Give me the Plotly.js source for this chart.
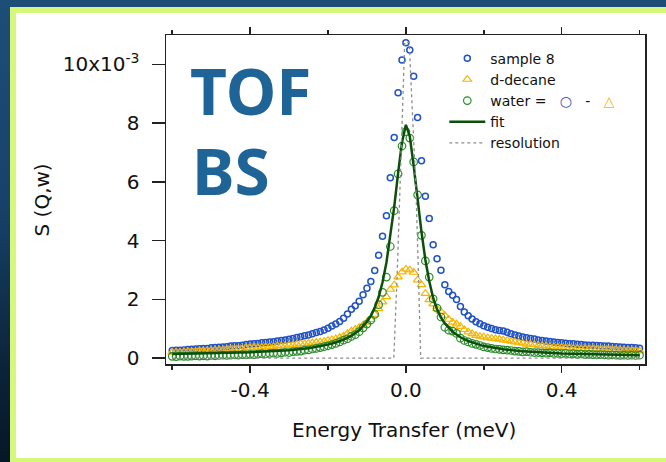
<!DOCTYPE html>
<html><head><meta charset="utf-8">
<script src="https://cdn.plot.ly/plotly-3.0.1.min.js"></script>
<style>
html,body{margin:0;padding:0;}
body{width:666px;height:462px;overflow:hidden;position:relative;background:linear-gradient(to bottom,#1d4e78 0%,#17416a 45%,#0b2338 80%,#061727 100%);}
#frame{position:absolute;left:10px;top:7px;width:700px;height:457px;box-sizing:border-box;border:6px solid #d5f77c;background:#ffffff;}
#chart{position:absolute;left:0;top:0;width:666px;height:462px;}
</style></head>
<body><div id="frame"></div><div id="chart"></div>
<script>
// Energy transfer (meV)
const energy = [-0.60,-0.59,-0.58,-0.57,-0.56,-0.55,-0.54,-0.53,-0.52,-0.51,
 -0.50,-0.49,-0.48,-0.47,-0.46,-0.45,-0.44,-0.43,-0.42,-0.41,
 -0.40,-0.39,-0.38,-0.37,-0.36,-0.35,-0.34,-0.33,-0.32,-0.31,
 -0.30,-0.29,-0.28,-0.27,-0.26,-0.25,-0.24,-0.23,-0.22,-0.21,
 -0.20,-0.19,-0.18,-0.17,-0.16,-0.15,-0.14,-0.13,-0.12,-0.11,
 -0.10,-0.09,-0.08,-0.07,-0.06,-0.05,-0.04,-0.03,-0.02,-0.01,
 0.00,
 0.01,0.02,0.03,0.04,0.05,0.06,0.07,0.08,0.09,0.10,
 0.11,0.12,0.13,0.14,0.15,0.16,0.17,0.18,0.19,0.20,
 0.21,0.22,0.23,0.24,0.25,0.26,0.27,0.28,0.29,0.30,
 0.31,0.32,0.33,0.34,0.35,0.36,0.37,0.38,0.39,0.40,
 0.41,0.42,0.43,0.44,0.45,0.46,0.47,0.48,0.49,0.50,
 0.51,0.52,0.53,0.54,0.55,0.56,0.57,0.58,0.59,0.60];

// S(Q,w) in units of 1e-3
const sample8 = [0.26,0.27,0.27,0.28,0.29,0.30,0.31,0.32,0.33,0.33,
 0.35,0.36,0.37,0.38,0.39,0.41,0.42,0.42,0.44,0.46,
 0.48,0.49,0.50,0.52,0.53,0.55,0.56,0.58,0.60,0.62,
 0.64,0.67,0.70,0.73,0.76,0.79,0.83,0.87,0.91,0.96,
 1.02,1.09,1.16,1.25,1.36,1.50,1.66,1.78,1.94,2.16,
 2.38,2.61,2.98,3.50,4.15,4.85,6.14,7.51,9.03,10.15,
 10.74,
 10.49,9.60,8.19,6.72,5.51,4.75,3.86,3.38,2.99,2.50,
 2.27,2.14,2.00,1.76,1.57,1.44,1.33,1.24,1.17,1.10,
 1.05,1.01,0.97,0.94,0.92,0.88,0.83,0.79,0.75,0.72,
 0.69,0.67,0.65,0.62,0.60,0.58,0.57,0.55,0.53,0.52,
 0.51,0.49,0.49,0.47,0.46,0.45,0.44,0.44,0.43,0.42,
 0.41,0.41,0.40,0.39,0.38,0.37,0.36,0.36,0.35,0.34];

const decane = [0.20,0.21,0.20,0.22,0.23,0.23,0.23,0.25,0.25,0.26,
 0.26,0.28,0.28,0.28,0.30,0.31,0.31,0.32,0.32,0.35,
 0.35,0.37,0.36,0.37,0.39,0.39,0.39,0.42,0.42,0.42,
 0.45,0.45,0.47,0.49,0.49,0.51,0.52,0.54,0.55,0.57,
 0.60,0.63,0.66,0.70,0.75,0.84,0.92,0.98,1.04,1.13,
 1.22,1.31,1.49,1.68,1.91,2.09,2.34,2.49,2.76,2.93,
 3.03,
 3.00,2.92,2.66,2.50,2.20,1.99,1.84,1.68,1.59,1.45,
 1.32,1.22,1.16,1.08,0.97,0.89,0.83,0.77,0.74,0.72,
 0.69,0.68,0.66,0.64,0.62,0.60,0.57,0.55,0.52,0.51,
 0.47,0.47,0.46,0.43,0.42,0.41,0.39,0.39,0.37,0.37,
 0.35,0.35,0.34,0.34,0.32,0.33,0.31,0.32,0.31,0.30,
 0.30,0.30,0.29,0.29,0.28,0.27,0.27,0.26,0.26,0.24];

const water = [0.06,0.05,0.07,0.06,0.06,0.07,0.08,0.07,0.08,0.07,
 0.09,0.08,0.09,0.10,0.09,0.10,0.11,0.10,0.12,0.11,
 0.13,0.12,0.14,0.15,0.14,0.16,0.17,0.16,0.18,0.20,
 0.19,0.22,0.23,0.24,0.27,0.28,0.31,0.33,0.36,0.39,
 0.42,0.46,0.50,0.55,0.61,0.66,0.74,0.80,0.90,1.03,
 1.16,1.30,1.49,1.82,2.24,2.76,3.80,5.02,6.27,7.22,
 7.71,
 7.49,6.68,5.56,4.18,3.31,2.76,2.02,1.70,1.40,1.05,
 0.95,0.92,0.84,0.68,0.60,0.55,0.50,0.47,0.43,0.38,
 0.36,0.33,0.31,0.30,0.28,0.27,0.26,0.24,0.23,0.21,
 0.22,0.20,0.19,0.19,0.18,0.17,0.18,0.16,0.16,0.15,
 0.16,0.14,0.15,0.13,0.14,0.12,0.13,0.12,0.11,0.12,
 0.11,0.10,0.11,0.10,0.09,0.10,0.09,0.10,0.09,0.10];

const fitE = [-0.60,-0.50,-0.40,-0.30,-0.25,-0.20,-0.18,-0.16,-0.14,-0.12,
 -0.10,-0.09,-0.08,-0.07,-0.06,-0.05,-0.04,-0.03,-0.02,-0.01,
 0.00,0.01,0.02,0.03,0.04,0.05,0.06,0.07,0.08,0.09,
 0.10,0.12,0.14,0.16,0.18,0.20,0.25,0.30,0.40,0.50,0.60];
const fitS = [0.14,0.16,0.20,0.27,0.34,0.46,0.53,0.63,0.76,0.95,
 1.24,1.44,1.72,2.08,2.58,3.25,4.12,5.15,6.30,7.35,
 7.94,7.55,6.55,5.40,4.30,3.35,2.62,2.05,1.66,1.38,
 1.18,0.90,0.71,0.58,0.49,0.41,0.30,0.23,0.16,0.12,0.10];

const resE = [-0.60,-0.031,-0.022,-0.015,-0.003,0.0085,0.026,0.032,0.038,0.60];
const resS = [0,0,3.0,5.7,10.75,10.75,5.7,3.0,0,0];

const xTickVals = [-0.4, 0.0, 0.4];
const xTickText = ['-0.4', '0.0', '0.4'];
const xMinorVals = [-0.6, -0.2, 0.2, 0.6];
const yTickVals = [0, 2, 4, 6, 8, 10];
const yTickText = ['0', '2', '4', '6', '8', '10x10<sup>-3</sup>'];

const cBlue = '#2152c4', cGold = '#f7b500', cGreen = '#2b8c2b', cFit = '#0b4f0b', cRes = '#8c8c8c';
const F = 'DejaVu Sans, sans-serif';

const traces = [
 {x: energy, y: sample8, name: 'sample 8', type: 'scatter', mode: 'markers', cliponaxis: false,
  marker: {symbol: 'circle-open', size: 6, color: cBlue, line: {width: 1.5, color: cBlue}}},
 {x: energy, y: decane, name: 'd-decane', type: 'scatter', mode: 'markers',
  marker: {symbol: 'triangle-up-open', size: 7.5, color: cGold, line: {width: 1.2, color: cGold}}},
 {x: energy, y: water, type: 'scatter', mode: 'markers',
  name: 'water =\u00a0\u00a0 <span style="color:' + cBlue + '">\u25CB</span>\u00a0\u00a0 -\u00a0\u00a0 <span style="color:' + cGold + '">\u25B3</span>',
  marker: {symbol: 'circle-open', size: 7.5, color: cGreen, line: {width: 1.2, color: cGreen}}},
 {x: fitE, y: fitS, name: 'fit', type: 'scatter', mode: 'lines',
  line: {color: cFit, width: 2.5}},
 {x: resE, y: resS, name: 'resolution', type: 'scatter', mode: 'lines',
  line: {color: cRes, width: 1.3, dash: 'dot'}}
];

const axLine = '#222222';
const layout = {
 width: 666, height: 462,
 margin: {l: 166, r: 21, t: 35, b: 98, pad: 0},
 paper_bgcolor: 'rgba(0,0,0,0)', plot_bgcolor: '#ffffff',
 showlegend: true,
 font: {family: F, color: '#111111'},
 xaxis: {range: [-0.616, 0.614], showgrid: false, zeroline: false,
  showline: true, linecolor: axLine, linewidth: 1.5, mirror: 'ticks',
  ticks: 'outside', ticklen: 7, tickwidth: 1.5, tickcolor: axLine,
  tickmode: 'array', tickvals: xTickVals, ticktext: xTickText,
  minor: {tickmode: 'array', tickvals: xMinorVals, ticks: 'outside', ticklen: 4, tickwidth: 1.5, tickcolor: axLine},
  tickfont: {family: F, size: 20, color: '#111111'}},
 xaxis2: {overlaying: 'x', matches: 'x', anchor: 'y', showgrid: false, zeroline: false, showline: false,
  mirror: 'ticks', ticks: 'inside', ticklen: 4, tickwidth: 1.5, tickcolor: axLine,
  tickmode: 'array', tickvals: xTickVals, showticklabels: false,
  minor: {tickmode: 'array', tickvals: xMinorVals, ticks: 'inside', ticklen: 3, tickwidth: 1.5, tickcolor: axLine}},
 yaxis: {range: [-0.2, 11.0], showgrid: false, zeroline: false,
  showline: true, linecolor: axLine, linewidth: 1.5, mirror: true,
  ticks: 'outside', ticklen: 13, tickwidth: 1.5, tickcolor: axLine,
  tickmode: 'array', tickvals: yTickVals, ticktext: yTickText,
  ticklabelstandoff: 8,
  tickfont: {family: F, size: 20, color: '#111111'}},
 legend: {x: 0.581, y: 0.977, xanchor: 'left', yanchor: 'top', bgcolor: 'rgba(0,0,0,0)',
  itemwidth: 36,
  borderwidth: 0, font: {family: F, size: 14, color: '#111111'}, tracegroupgap: 0},
 annotations: [
  {text: 'TOF', xref: 'paper', yref: 'paper', x: 0.046, y: 0.83, xanchor: 'left', yanchor: 'middle',
   showarrow: false, font: {family: 'Noto Sans, sans-serif', size: 64, weight: 'bold', color: '#1f6496'}},
  {text: 'BS', xref: 'paper', yref: 'paper', x: 0.05, y: 0.588, xanchor: 'left', yanchor: 'middle',
   showarrow: false, font: {family: 'Noto Sans, sans-serif', size: 64, weight: 'bold', color: '#1f6496'}},
  {text: 'Energy Transfer (meV)', xref: 'paper', yref: 'paper', x: 0.497, y: -0.1995,
   xanchor: 'center', yanchor: 'middle', showarrow: false, font: {family: F, size: 20, color: '#111111'}},
  {text: 'S (Q,w)', xref: 'paper', yref: 'paper', x: -0.259, y: 0.5, textangle: -90,
   xanchor: 'center', yanchor: 'middle', showarrow: false, font: {family: F, size: 20, color: '#111111'}}
 ]
};

Plotly.newPlot('chart', traces, layout, {displayModeBar: false, staticPlot: true});
</script></body></html>
